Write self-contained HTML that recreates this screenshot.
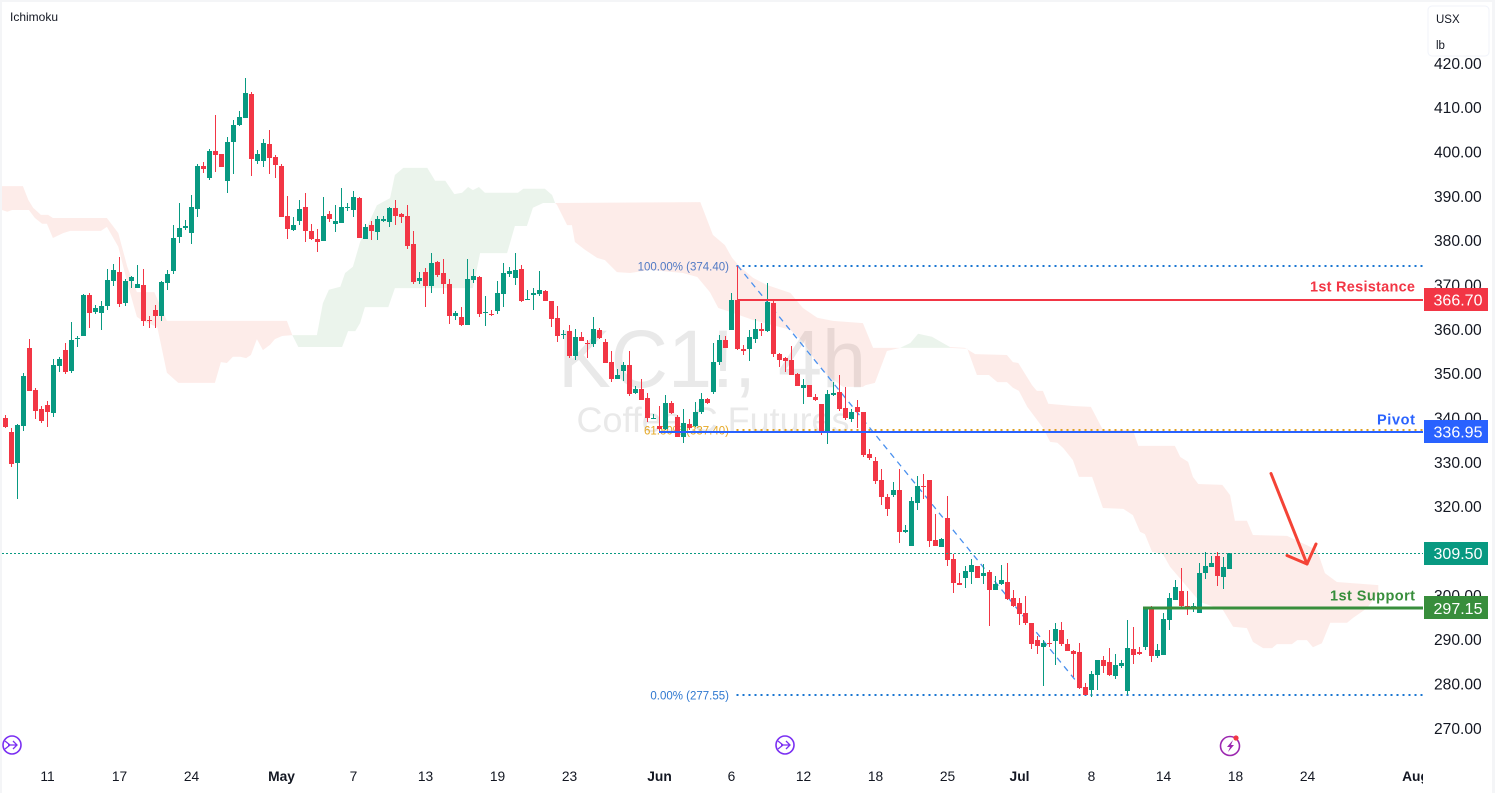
<!DOCTYPE html>
<html lang="en">
<head>
<meta charset="utf-8">
<title>KC1! 4h Coffee C Futures</title>
<style>
html,body{margin:0;padding:0;background:#fff;width:1495px;height:793px;overflow:hidden}
#chart{position:absolute;left:0;top:0;display:block}
text{font-family:"Liberation Sans",sans-serif}
</style>
</head>
<body>
<svg id="chart" xmlns="http://www.w3.org/2000/svg" width="1495" height="793" viewBox="0 0 1495 793">
  <defs>
    <clipPath id="plot-clip"><rect x="2" y="0" width="1421" height="793"/></clipPath>
  </defs>
  <rect x="0" y="0" width="1495" height="793" fill="#ffffff"/>
  <g fill="#e9e9e9" text-anchor="middle">
    <text x="712" y="387" font-size="82" textLength="308" lengthAdjust="spacingAndGlyphs">KC1!, 4h</text>
    <text x="713" y="432" font-size="35" textLength="273" lengthAdjust="spacingAndGlyphs">Coffee C Futures</text>
  </g>
  <g id="kumo-layer" clip-path="url(#plot-clip)"></g>
  <g id="fib-layer"></g>
  <g id="candle-layer"></g>
  <g id="level-layer"></g>
  <g id="price-axis"></g>
  <g id="time-axis" clip-path="url(#plot-clip)"></g>
  <g id="tag-layer"></g>

  <g fill="none" stroke="#f44336" stroke-width="3" stroke-linecap="round" stroke-linejoin="round">
    <line x1="1271" y1="473.5" x2="1307" y2="564"/>
    <polyline points="1287,555.5 1307,564 1316,544"/>
  </g>

  <text x="10" y="21" font-size="12" fill="#131722">Ichimoku</text>

  <g>
    <rect x="1428" y="6" width="61" height="50" rx="4" fill="#ffffff" stroke="#f0f3fa" stroke-width="1"/>
    <text x="1436" y="23" font-size="11.5" fill="#131722">USX</text>
    <text x="1436" y="49" font-size="11.5" fill="#131722">lb</text>
  </g>

  <g fill="none" stroke="#7a2ff2">
    <circle cx="12" cy="745" r="9" stroke-width="1.6"/>
    <path d="M5 741l5 4-5 4M8 745h9M13 741l4 4-4 4" stroke-width="1.3"/>
  </g>
  <g fill="none" stroke="#7a2ff2">
    <circle cx="785" cy="745" r="9" stroke-width="1.6"/>
    <path d="M778 741l5 4-5 4M781 745h9M786 741l4 4-4 4" stroke-width="1.3"/>
  </g>
  <g>
    <circle cx="1230" cy="746" r="9.5" fill="none" stroke="#9c27b0" stroke-width="1.6"/>
    <path d="M1233 740l-6 7h3l-2 5 6-7h-3z" fill="#9c27b0"/>
    <circle cx="1236" cy="738" r="2.6" fill="#f23645"/>
  </g>

  <rect x="0" y="0" width="2" height="793" fill="#f4f5f7"/>
  <rect x="0" y="0" width="1495" height="2" fill="#f4f5f7"/>
  <rect x="1492" y="0" width="3" height="793" fill="#f4f5f7"/>
</svg>

<script>
const opens = [340.0,336.8,329.8,338.2,355.8,346.3,342.0,342.9,341.1,351.7,
355.3,350.6,357.9,358.5,367.7,363.9,363.7,365.3,370.9,372.9,
365.9,370.9,369.3,370.0,362.1,364.4,363.0,370.4,373.2,380.8,
382.9,381.7,387.1,396.8,394.1,400.2,399.5,393.5,402.3,406.1,
407.7,413.1,398.0,398.0,401.8,398.9,396.8,385.5,382.4,384.4,
387.6,382.1,380.3,379.9,386.0,383.7,383.9,387.3,386.9,389.6,
380.3,383.5,381.9,384.5,384.2,387.3,386.0,385.5,379.2,370.9,
372.9,369.7,375.1,372.7,370.2,363.0,362.7,360.9,371.1,371.8,
363.6,363.4,364.1,367.9,372.4,371.5,373.6,366.6,367.7,367.9,
368.6,366.3,362.5,358.7,359.6,353.9,358.3,356.9,356.7,359.9,
357.1,352.6,348.8,350.6,352.0,345.6,346.5,344.5,339.8,338.2,
337.5,343.4,340.2,335.7,338.6,338.2,341.4,344.3,345.9,352.6,
357.6,359.9,366.6,355.6,355.6,357.8,360.1,359.6,365.9,354.4,
353.5,353.1,349.9,346.8,347.4,344.7,343.2,336.8,345.2,345.9,
342.3,339.8,342.5,341.4,331.9,330.3,326.1,322.2,322.7,323.8,
314.3,311.2,320.9,324.7,326.1,312.5,310.9,317.5,308.2,302.8,
303.9,305.3,306.7,304.4,305.3,301.2,302.6,303.0,299.4,298.3,
296.0,293.8,290.0,288.4,289.3,289.7,292.2,289.1,287.5,287.2,
279.4,278.7,282.1,285.4,285.0,281.8,284.1,278.5,287.9,287.2,
288.4,296.9,286.3,286.5,294.4,298.9,300.9,297.6,296.9,296.0,
305.0,306.4,308.8,304.1,305.9];

const highs = [340.6,337.7,338.6,350.1,357.8,346.8,342.7,343.8,353.3,353.8,
356.9,361.6,358.5,368.0,368.2,365.5,366.4,373.6,374.7,376.3,
371.3,372.0,374.5,373.6,363.0,365.5,370.9,373.4,383.5,388.5,
384.7,390.3,397.3,397.7,400.7,408.3,399.5,403.4,407.2,409.3,
416.7,413.5,400.5,402.9,405.0,399.3,397.3,390.0,385.3,389.1,
390.7,383.7,382.6,389.8,386.7,388.0,391.8,388.5,391.2,389.8,
383.7,384.4,385.5,385.5,387.6,389.1,386.2,388.0,382.1,372.9,
373.8,377.2,375.4,375.8,371.3,364.1,365.0,375.8,373.6,372.0,
367.5,364.3,370.9,374.9,374.0,377.2,374.5,368.8,369.3,373.1,
368.8,366.3,365.2,359.8,360.9,360.0,359.4,357.6,362.8,360.3,
357.8,355.1,351.1,352.6,355.1,347.2,348.8,345.6,340.9,342.7,
345.2,343.8,340.7,342.0,339.8,343.6,345.6,344.5,356.9,358.7,
358.5,368.2,374.3,356.5,359.9,362.3,361.4,370.5,366.4,354.7,
353.8,356.2,350.2,348.8,347.4,345.4,343.2,346.3,348.1,349.7,
347.0,342.0,344.1,341.4,333.0,331.2,328.5,322.9,325.6,328.5,
315.9,322.2,327.0,327.4,326.1,318.4,313.0,322.4,309.4,305.1,
306.7,308.2,306.7,307.1,305.7,304.4,306.9,307.3,301.2,299.4,
299.9,293.8,290.9,290.0,292.2,293.8,294.0,290.2,287.7,289.3,
280.3,283.0,285.4,286.3,288.2,286.8,285.4,294.5,292.9,288.4,
297.4,297.6,289.0,296.0,300.5,303.4,306.1,300.9,298.2,307.3,
309.7,308.8,309.7,308.6,309.5];

const lows = [337.8,329.0,321.8,337.1,346.1,339.8,338.9,338.0,340.2,350.4,
349.9,350.1,356.0,358.5,360.3,363.5,359.8,364.4,369.8,365.0,
365.3,369.3,369.3,360.7,360.3,360.3,361.9,368.9,372.5,379.5,
382.4,379.2,385.3,395.3,393.7,395.5,396.6,390.8,395.0,405.9,
407.7,394.6,397.3,396.6,395.0,394.1,385.3,380.3,382.1,383.5,
379.7,380.1,377.4,379.9,384.2,381.9,383.9,386.7,385.3,380.6,
380.3,380.1,380.1,384.2,383.0,383.5,383.9,378.1,370.2,370.2,
365.0,368.2,371.8,367.9,361.2,362.1,360.7,360.9,370.4,362.7,
360.7,363.0,363.4,365.0,371.8,370.0,366.1,366.6,364.3,367.5,
366.3,360.5,357.1,357.8,353.5,353.0,357.4,353.5,356.0,357.8,
352.4,348.1,348.8,348.3,345.0,345.4,344.1,339.1,339.8,336.8,
337.3,341.0,335.7,334.4,337.3,338.0,340.9,343.2,345.4,352.0,
355.8,359.9,355.3,354.2,352.9,356.9,358.5,359.4,353.8,351.5,
350.4,349.7,347.2,343.2,344.7,343.8,336.2,334.1,345.0,341.6,
339.5,339.1,337.7,331.2,330.6,325.1,320.4,317.9,322.2,311.8,
314.1,311.2,319.3,321.8,310.9,311.2,310.9,306.7,300.6,302.4,
301.7,302.6,303.9,302.6,293.1,301.2,302.4,299.0,297.4,293.3,
293.3,287.9,286.8,279.6,288.4,284.3,288.6,287.5,281.6,278.9,
277.5,277.1,278.7,282.5,281.8,281.2,283.6,277.5,284.5,286.6,
287.7,284.9,285.8,286.5,292.1,298.9,297.3,295.5,296.2,296.0,
303.7,306.4,302.1,301.4,305.9];

const closes = [338.0,329.6,338.4,349.5,346.1,341.6,339.3,341.3,351.9,353.3,
350.4,357.6,358.1,367.7,363.7,364.8,365.3,371.1,373.4,365.7,
370.9,371.8,370.2,361.9,361.9,363.0,370.7,372.5,380.6,382.9,
383.3,387.6,396.8,396.2,400.2,399.3,396.6,402.3,406.1,407.9,
413.3,398.4,399.5,402.0,398.6,397.1,385.3,382.6,383.5,387.1,
382.1,380.3,379.7,385.5,384.8,384.4,387.6,387.6,389.8,380.6,
383.0,382.1,384.8,384.8,387.3,385.5,385.3,378.8,370.6,371.5,
369.7,374.9,372.2,370.2,363.0,363.6,360.9,371.3,372.0,363.4,
363.9,363.2,368.2,372.7,373.1,373.3,366.3,366.8,368.2,368.8,
366.3,362.3,358.5,358.9,353.9,358.2,357.4,356.7,360.1,358.0,
352.4,348.8,349.7,352.0,345.4,346.5,344.1,340.0,340.0,337.5,
343.4,341.1,335.7,338.9,337.7,341.4,344.3,343.4,352.6,357.6,
355.8,366.6,355.6,355.1,358.3,360.1,359.6,366.2,354.4,353.1,
352.9,349.7,347.2,347.4,344.7,344.1,336.8,345.4,345.6,342.0,
340.0,341.4,341.4,331.7,331.0,325.8,322.2,319.5,323.8,314.3,
314.8,321.3,324.7,324.5,312.3,311.2,312.7,308.0,302.8,302.4,
305.5,306.9,303.9,305.1,301.2,302.6,303.5,299.2,297.6,295.8,
293.8,289.1,288.6,289.3,289.1,292.4,289.1,287.5,286.8,279.1,
277.5,282.3,285.4,284.1,282.1,284.3,284.8,288.2,286.6,286.8,
297.2,286.3,287.6,294.6,299.4,301.8,297.6,297.3,297.6,305.0,
306.6,307.3,304.3,306.4,309.5];

const kumoUpperBars = [-0.6,2.9,3.8,4.6,5.9,7.1,7.9,16.9,18.8,20.3,21.9,24.8,26.9,46.9,47.8,51.9,52.9,53.9,55.8,56.6,57.9,59.1,61.9,64.1,64.9,66.3,70.3,71.6,73.3,74.8,76.1,77.1,77.9,78.9,79.9,85.4,86.3,89.9,91.1,91.6,115.8,117.9,119.9,121.1,122.4,124.6,126.9,130.8,132.9,135.3,137.9,142.9,144.6,149.1,150.8,152.1,154.4,157.4,159.9,161.6,166.9,167.9,168.8,171.1,171.9,172.9,173.8,177.9,180.9,182.9,187.9,188.8,194.9,195.8,197.1,197.9,198.8,202.8,204.1,204.9,206.9,207.9,213.6,218.6,219.9,221.9,228.8];
const kumoUpper = [392.3,392.3,389.2,387.4,385.8,385.8,385.1,385.1,381.7,374.1,368.4,368.4,361.9,361.9,358.7,358.7,365.9,368.9,369.6,372.7,374.1,379.7,388.0,389.6,394.8,396.4,396.4,393.5,393.5,390.5,390.8,392.1,391.4,392.1,390.8,390.8,391.7,391.7,390.3,388.5,388.7,381.3,379.0,376.1,374.1,371.6,370.0,368.2,364.8,362.6,361.9,361.4,355.8,355.8,356.9,359.0,358.3,356.0,355.8,354.4,354.2,352.6,352.4,347.4,346.1,346.1,343.2,342.7,342.5,337.3,337.3,333.7,333.7,331.2,330.1,326.7,325.1,324.9,322.6,316.8,316.8,313.6,313.4,310.2,305.0,303.0,302.3];
const kumoLowerBars = [-0.6,0.3,1.1,3.9,4.9,6.1,6.9,7.9,9.6,10.8,15.9,16.9,18.8,20.3,21.9,22.9,25.3,26.9,28.8,34.9,35.9,36.9,37.9,39.1,40.1,40.9,41.9,42.9,44.1,44.9,46.1,47.8,48.8,56.1,57.1,58.3,59.1,59.9,63.8,64.9,77.9,79.1,83.6,84.9,86.9,87.9,89.6,91.6,91.9,93.6,94.4,94.9,96.6,98.6,99.9,101.9,104.1,107.4,112.9,115.3,117.4,118.8,120.4,124.6,130.8,132.9,134.9,136.9,139.6,142.9,143.3,144.9,146.9,149.1,157.4,160.3,161.9,163.9,165.3,166.9,167.9,168.9,170.3,172.9,174.1,175.3,176.3,177.9,178.9,181.1,182.9,186.3,187.9,189.1,189.9,191.1,192.9,194.1,199.1,202.9,204.6,206.9,207.9,209.6,211.1,211.9,214.4,215.3,216.9,217.9,219.4,220.8,223.6,224.6,226.9,228.8];
const kumoLower = [386.9,386.5,386.9,386.9,385.1,383.8,383.8,380.6,381.7,382.2,382.2,383.1,378.6,370.5,362.8,361.9,360.5,350.2,347.9,347.9,352.6,352.4,353.8,353.8,353.5,354.2,357.8,355.3,356.5,357.8,358.5,358.7,356.0,356.0,359.6,359.6,361.4,365.0,365.0,369.3,369.3,377.2,377.2,383.3,383.3,387.4,388.5,388.5,388.1,383.5,383.5,379.7,377.9,376.1,375.6,372.9,372.7,373.4,372.7,371.8,368.4,364.8,364.1,362.1,359.9,357.2,353.1,349.7,347.0,347.0,347.4,347.9,355.1,355.8,355.8,355.6,349.7,349.7,348.1,348.1,346.8,346.1,342.5,337.8,334.6,334.4,333.2,330.5,326.7,326.7,319.7,319.5,318.1,314.3,313.8,309.8,309.3,306.4,298.5,296.7,292.9,292.6,289.5,288.1,288.1,289.0,289.0,289.9,289.9,288.3,289.2,293.8,293.8,294.9,297.1,300.5];
const kumoTwists = [47.8,91.6,149.1,157.4];

const priceTicks = [420,410,400,390,380,370,360,350,340,330,320,310,300,290,280,270];
const timeLabels = ["11","17","24","May","7","13","19","23","Jun","6","12","18","25","Jul","8","14","18","24","Aug"];
const timeBars = [7,19,31,46,58,70,82,94,109,121,133,145,157,169,181,193,205,217,235];

const fibPrices = [374.40,337.40,277.55];
const fibTexts = ["100.00% (374.40)","61.80% (337.40)","0.00% (277.55)"];
const fibColors = ["#1976d2","#e0a020","#1976d2"];
const fibLabelColors = ["#5079c4","#e6a825","#2f78d0"];
const fibStartBar = 122;
const fibTrendBars = [122,180.3];
const fibTrendPrices = [374.40,277.55];

const levelPrices = [366.70,336.95,297.15];
const levelStartBars = [121.9,108.9,189.6];
const levelNames = ["1st Resistance","Pivot","1st Support"];
const levelColors = ["#f23645","#2962ff","#388e3c"];
const levelWidths = [2,2,3];
const levelLabelPrices = [369.7,339.7,300.0];
const levelLabelLengths = [105,38,85];
const lastPrice = 309.50;

const NS = "http://www.w3.org/2000/svg";
const UP = "#089981";
const DOWN = "#f23645";
const PLOT_RIGHT = 1423;

function xScale(bar){ return 5.5 + 6 * bar; }
function yScale(price){ return 728.3 - (price - 270) * 4.4333; }
function yPixel(price){ return Math.round(yScale(price) + 0.3); }
function make(tag, attrs, parent){
  const el = document.createElementNS(NS, tag);
  for (const k in attrs) el.setAttribute(k, attrs[k]);
  parent.appendChild(el);
  return el;
}

/* cloud */
const kumoLayer = document.getElementById("kumo-layer");
const kumoPoints = [];
kumoUpperBars.forEach((b,i) => kumoPoints.push(xScale(b).toFixed(1)+","+yScale(kumoUpper[i]).toFixed(1)));
for (let i = kumoLowerBars.length - 1; i >= 0; i--) kumoPoints.push(xScale(kumoLowerBars[i]).toFixed(1)+","+yScale(kumoLower[i]).toFixed(1));
const kumoEdges = [-1].concat(kumoTwists, [240]);
for (let r = 0; r < kumoEdges.length - 1; r++) {
  const cp = make("clipPath", {id:"kumo-region-"+r}, kumoLayer);
  make("rect", {x:xScale(kumoEdges[r]), y:0, width:xScale(kumoEdges[r+1])-xScale(kumoEdges[r]), height:793}, cp);
  const poly = make("polygon", {
    points: kumoPoints.join(" "),
    fill: r % 2 === 0 ? "rgba(235,65,35,0.1)" : "rgba(55,145,65,0.1)",
    "clip-path": "url(#kumo-region-"+r+")"
  }, kumoLayer);
  
  
}

/* fibonacci */
const fibLayer = document.getElementById("fib-layer");
fibPrices.forEach((p,i) => {
  const y = yPixel(p);
  const line = make("line", {x1:xScale(fibStartBar)-1, x2:PLOT_RIGHT, y1:y, y2:y, stroke:fibColors[i], "stroke-width":2, "stroke-dasharray":"2 4", "shape-rendering":"crispEdges"}, fibLayer);
  
  
  const t = make("text", {x:729, y:y+4.5, "text-anchor":"end", "font-size":11.5, fill:fibLabelColors[i]}, fibLayer);
  t.textContent = fibTexts[i];
  
  
});
const fibTrend = make("line", {
  x1:xScale(fibTrendBars[0]), y1:yScale(fibTrendPrices[0]),
  x2:xScale(fibTrendBars[1]), y2:yScale(fibTrendPrices[1]),
  stroke:"#4a90ee", "stroke-width":1.3, "stroke-dasharray":"6 5"
}, fibLayer);



/* last price dotted line */
const levelLayer = document.getElementById("level-layer");
const lastY = Math.round(yScale(lastPrice)) + 0.5;
const lastLine = make("line", {x1:2, x2:PLOT_RIGHT, y1:lastY, y2:lastY, stroke:UP, "stroke-width":1, "stroke-dasharray":"2 2", "shape-rendering":"crispEdges"}, levelLayer);



/* candles */
const candleLayer = document.getElementById("candle-layer");
opens.forEach((o,i) => {
  const c = closes[i];
  const color = c >= o ? UP : DOWN;
  const cx = xScale(i);
  const g = make("g", {fill:color, "shape-rendering":"crispEdges"}, candleLayer);
  
  
  const yH = Math.round(yScale(highs[i]));
  const yL = Math.round(yScale(lows[i]));
  const wick = make("rect", {x:cx-0.5, y:yH, width:1, height:Math.max(1,yL-yH)}, g);
  
  
  const yT = Math.round(yScale(Math.max(o,c)));
  const yB = Math.round(yScale(Math.min(o,c)));
  const body = make("rect", {x:cx-2.5, y:yT, width:5, height:Math.max(1,yB-yT)}, g);
  
  
});

/* levels */
levelPrices.forEach((p,i) => {
  const y = yPixel(p);
  const line = make("line", {x1:xScale(levelStartBars[i]), x2:PLOT_RIGHT, y1:y, y2:y, stroke:levelColors[i], "stroke-width":levelWidths[i], "shape-rendering":"crispEdges"}, levelLayer);
  
  
  const t = make("text", {x:1415, y:yScale(levelLabelPrices[i])+5, "text-anchor":"end", "font-size":14.5, "font-weight":"bold", fill:levelColors[i], textLength:levelLabelLengths[i], lengthAdjust:"spacing"}, levelLayer);
  t.textContent = levelNames[i];
  
  
});

/* price axis */
const priceAxis = document.getElementById("price-axis");
priceTicks.forEach(p => {
  const t = make("text", {x:1434, y:yScale(p)+5.5, "font-size":15.6, fill:"#131722"}, priceAxis);
  t.textContent = p.toFixed(2);
  
  
});

/* time axis */
const timeAxis = document.getElementById("time-axis");
timeLabels.forEach((s,i) => {
  const isMonth = isNaN(Number(s));
  const t = make("text", {x:xScale(timeBars[i]), y:781, "text-anchor":"middle", "font-size":13.8, "font-weight":isMonth?"bold":"normal", fill:"#131722"}, timeAxis);
  t.textContent = s;
  
  
});

/* price tags */
const tagLayer = document.getElementById("tag-layer");
const tagPrices = levelPrices.concat([lastPrice]);
const tagColors = levelColors.concat([UP]);
tagPrices.forEach((p,i) => {
  const y = yScale(p);
  const r = make("rect", {x:1424, y:Math.round(y-11.5), width:64, height:23, fill:tagColors[i], "shape-rendering":"crispEdges"}, tagLayer);
  
  
  const t = make("text", {x:1458, y:y+6, "text-anchor":"middle", "font-size":16, fill:"#ffffff"}, tagLayer);
  t.textContent = p.toFixed(2);
  
  
});
</script>
</body>
</html>
